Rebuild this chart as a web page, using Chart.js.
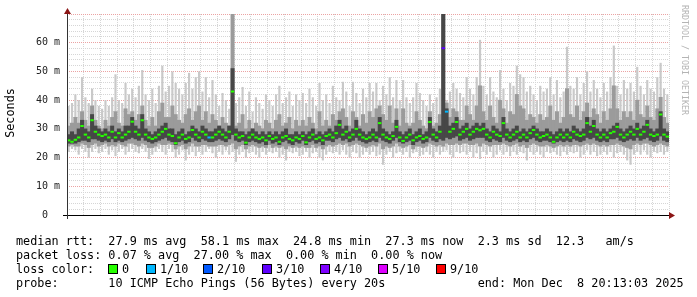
<!DOCTYPE html>
<html lang="en">
<head>
<meta charset="UTF-8" />
<title>SmokePing - median rtt</title>
<script src="https://cdn.jsdelivr.net/npm/chart.js"></script>
<style>
  body { margin: 0; background: #ffffff; }
  #wrap { width: 697px; height: 297px; }
</style>
</head>
<body>
<div id="wrap"><canvas id="smoke" width="697" height="297"></canvas></div>
<script>
// x axis is minutes after 17:00, window 17:13:03 .. 20:13:03, one sample per minute
const startX = 13.05;
const endX = 193.05;
const firstSample = 13.55;

// median rtt (ms)
const median = [
  26.0, 25.5, 26.2, 27.0, 31.0, 28.0, 27.0, 33.0, 29.0, 28.0,
  27.5, 28.0, 27.0, 29.0, 27.0, 28.5, 27.0, 28.0, 29.0, 32.5,
  29.0, 28.0, 33.0, 28.0, 27.0, 26.5, 27.0, 28.0, 29.0, 30.0,
  28.0, 27.5, 25.0, 27.0, 28.0, 26.5, 27.0, 29.6, 28.0, 27.0,
  29.0, 28.0, 27.0, 27.0, 28.0, 29.0, 28.0, 27.0, 29.0, 43.0,
  28.0, 27.0, 27.5, 25.2, 27.0, 28.0, 27.0, 26.5, 27.0, 26.0,
  27.5, 26.5, 27.0, 25.5, 27.0, 27.5, 26.5, 26.0, 27.0, 26.5,
  27.5, 25.3, 27.0, 28.0, 26.5, 27.0, 26.0, 27.5, 28.0, 27.0,
  28.5, 31.4, 28.0, 29.0, 27.0, 28.0, 30.0, 28.0, 27.0, 26.5,
  27.0, 28.0, 27.0, 32.0, 28.0, 27.0, 26.5, 27.5, 30.7, 27.0,
  25.8, 27.0, 28.0, 26.0, 27.0, 27.5, 26.5, 27.0, 32.4, 28.0,
  27.0, 29.0, 58.1, 36.0, 29.0, 30.0, 32.4, 28.0, 29.0, 30.0,
  28.0, 29.0, 30.0, 29.5, 30.0, 28.0, 27.0, 29.0, 28.0, 27.5,
  32.0, 28.0, 27.0, 28.0, 29.0, 27.0, 28.0, 27.0, 28.5, 29.6,
  28.0, 27.0, 27.5, 28.0, 27.0, 25.5, 27.0, 28.0, 27.0, 28.0,
  27.0, 29.0, 28.0, 27.5, 28.0, 32.0, 29.0, 31.0, 28.0, 27.0,
  28.0, 27.0, 28.5, 29.0, 30.7, 28.0, 27.0, 28.0, 29.0, 28.0,
  30.0, 28.0, 29.0, 31.4, 28.0, 27.5, 28.0, 35.0, 28.0, 27.3
];

// samples with packet loss (index into median) and their loss level (x/10)
const lossPoints = [42, 112, 113];
const lossLevel = [1, 3, 1];

// outer smoke: fastest and slowest ping
const smokeMin = [
  22, 23, 22.5, 21, 23, 22, 20, 22, 23, 21.5,
  22, 23, 21, 22.5, 20.5, 22, 23, 21, 22, 23,
  22, 21.5, 23, 22, 19.5, 21, 22, 23, 22, 21,
  23, 22, 20, 21, 22.5, 19, 21, 22, 20.5, 22,
  21, 22, 23, 21.5, 20, 22, 21, 22.5, 21, 22,
  18.5, 21, 22, 20, 21.5, 22, 21, 20, 22, 21,
  22, 21.5, 22, 20, 21, 19, 22, 21.5, 22, 20.5,
  21, 22, 20, 21.5, 22, 20, 19, 21, 22, 21.5,
  22, 21, 22.5, 21, 20, 22, 21.5, 20, 21, 22,
  21, 22, 20.5, 21, 17.5, 21, 22, 20, 21.5, 22,
  21, 22, 20, 21.5, 22, 20.5, 21, 22, 21, 20,
  22, 21, 22, 22.5, 21, 20, 22, 21.5, 22, 21,
  22, 20, 21.5, 19.5, 22, 21, 22, 20, 21, 22.5,
  21, 22, 20.5, 22, 21, 22, 21.5, 19, 22, 21,
  22, 21, 20, 22, 21.5, 22, 21, 20.5, 22, 21,
  22, 21.5, 22, 20, 21, 22.5, 21, 22, 20.5, 21,
  22, 21, 22, 20, 21.5, 22, 21, 19, 17.5, 21,
  22, 21, 22.5, 21, 20, 22, 21.5, 22, 21, 22
];
const smokeMax = [
  38, 39, 42, 40, 48, 41, 39, 44, 40, 38,
  37, 40, 38, 41, 49, 40, 39, 46, 42, 44,
  41, 45, 50.5, 42, 40, 44, 39, 45, 52, 43,
  45, 50, 46, 44, 42, 46, 49.5, 44, 48, 50,
  43, 48, 41, 47, 42, 38, 42.5, 40, 37, 70,
  39, 41, 44.6, 38, 43, 36, 41, 39, 37, 42,
  40, 38, 42, 45, 39, 41, 43, 38, 42, 40,
  42.5, 39, 44, 41, 38, 46, 40, 42, 39, 45,
  41, 40, 46.4, 43, 38, 46.4, 42.5, 39, 44, 41,
  46, 43, 46, 40, 45, 42, 48, 41, 47, 40,
  47, 41, 39, 41, 46, 42.5, 40, 38, 42, 39,
  41, 44, 70, 40, 43, 46, 44, 42.5, 41, 48,
  44, 42, 48, 61, 45, 42, 48, 43, 41, 50.5,
  44, 40, 46, 45, 52, 49, 48, 43, 45, 42,
  40, 45, 43, 44, 48, 42, 47, 41, 43, 58.6,
  45, 44, 48, 42, 46, 50, 43, 47, 44, 41,
  46, 43, 48, 59, 45, 42, 47, 44, 46, 43,
  51.6, 45, 42, 47, 44, 43, 48, 53, 44, 42
];

// middle smoke
const smokeLo = [
  24, 24.5, 24, 24, 25, 24.5, 23.5, 24.5, 25, 24,
  24.5, 25, 24, 24.5, 24, 25, 24.5, 24, 25, 25,
  24.5, 24, 25, 24.5, 23.5, 23.5, 24, 25, 24.5, 24.5,
  25, 24.5, 23, 24, 24.5, 23, 24, 25, 24, 24,
  24.5, 24.5, 24, 24, 24, 24.5, 24.5, 24, 24.5, 25,
  23, 24, 24.5, 23, 24, 24.5, 24, 23.5, 24, 23.5,
  24.5, 23.5, 24, 23.5, 24, 23, 24, 23.5, 24, 23.5,
  24, 23.5, 23.5, 24.5, 23.5, 24, 23, 24, 24.5, 24,
  24.5, 25, 24.5, 25, 24, 24.5, 25, 24.5, 24, 23.5,
  24, 24.5, 24, 25, 23, 24, 23.5, 24, 25, 24,
  23.5, 24, 24.5, 23, 24, 24, 23.5, 24, 25, 24.5,
  24, 24.5, 24, 25, 24.5, 24.5, 25, 24.5, 25, 25,
  24.5, 24.5, 25, 24, 25, 24.5, 24, 24.5, 24.5, 24.5,
  25, 24.5, 24, 24.5, 25, 24, 24.5, 23.5, 24.5, 25,
  24.5, 24, 24, 24.5, 24, 23.5, 24, 24.5, 24, 24.5,
  24, 24.5, 24.5, 24, 24.5, 25, 24.5, 25, 24.5, 24,
  24.5, 24, 24.5, 24.5, 25, 24.5, 24, 23.5, 23, 24.5,
  25, 24.5, 25, 25, 24.5, 24, 24.5, 25, 24.5, 24
];
const smokeHi = [
  31, 32, 34, 32, 36, 33, 31, 38, 33, 31,
  30, 33, 31, 34, 36, 32, 31, 37, 35, 36,
  33, 35, 38, 33, 31, 34, 31, 36, 39, 34,
  34, 38, 35, 33, 32, 35, 37, 33, 36, 38,
  33, 36, 32, 35, 33, 31, 34, 32, 31, 70,
  31, 32, 35, 30, 33, 30, 32, 31, 30, 33,
  32, 30, 33, 35, 31, 32, 34, 30, 33, 31,
  33, 31, 34, 32, 30, 36, 31, 33, 31, 35,
  33, 36, 37, 34, 31, 36, 34, 31, 35, 32,
  36, 34, 37, 38, 35, 33, 38, 32, 37, 31,
  37, 32, 31, 32, 36, 33, 31, 30, 36, 31,
  32, 35, 70, 39, 34, 37, 36, 33, 33, 38,
  35, 33, 38, 45, 36, 33, 38, 34, 32, 40,
  37, 32, 36, 35, 42, 38, 37, 33, 35, 34,
  32, 35, 33, 34, 38, 33, 36, 32, 34, 44,
  35, 34, 38, 33, 36, 39, 34, 37, 35, 32,
  36, 33, 37, 45, 37, 33, 36, 34, 36, 33,
  40, 35, 34, 38, 34, 33, 37, 41, 34, 32
];

// dense smoke around the median
const coreLo = [
  25, 25, 25, 25.5, 26, 26, 25.5, 26.5, 26.5, 26,
  25.5, 26, 25.5, 26.5, 25.5, 26, 25.5, 26, 26.5, 27,
  26.5, 26, 27, 26, 25.5, 25, 25.5, 26, 26.5, 27,
  26, 25.5, 24.5, 25.5, 26, 25, 25.5, 27, 26, 25.5,
  26.5, 26, 25.5, 25.5, 26, 26.5, 26, 25.5, 26.5, 28,
  26, 25.5, 26, 24.5, 25.5, 26, 25.5, 25, 25.5, 24.5,
  26, 25, 25.5, 24.5, 25.5, 26, 25, 24.5, 25.5, 25,
  26, 24.5, 25.5, 26, 25, 25.5, 24.5, 26, 26, 25.5,
  26.5, 27, 26, 26.5, 25.5, 26, 27, 26, 25.5, 25,
  25.5, 26, 25.5, 27, 26, 25.5, 25, 26, 27, 25.5,
  25, 25.5, 26, 24.5, 25.5, 26, 25, 25.5, 27, 26,
  25.5, 26.5, 26, 27, 26.5, 27, 27.5, 26, 26.5, 27,
  26, 26.5, 27, 27, 27, 26, 25.5, 26.5, 26, 25.5,
  27, 26, 25.5, 26, 26.5, 25.5, 26, 25.5, 26.5, 27,
  26, 25.5, 26, 26, 25.5, 25, 25.5, 26, 25.5, 26,
  25.5, 26.5, 26, 25.5, 26, 27, 26.5, 27, 26, 25.5,
  26, 25.5, 26.5, 26.5, 27, 26, 25.5, 26, 26.5, 26,
  27, 26, 26.5, 27, 26, 25.5, 26, 27.5, 26, 25.5
];
const coreHi = [
  28, 29, 28, 30, 33, 30, 29, 35, 31, 30,
  29, 30, 29, 31, 29, 30, 29, 31, 31, 34,
  31, 30, 35, 30, 29, 28, 29, 30, 31, 32,
  30, 30, 28, 29, 30, 28, 29, 31, 30, 29,
  31, 30, 29, 29, 30, 31, 30, 29, 31, 51,
  30, 29, 29, 28, 29, 30, 29, 28, 29, 28,
  29, 28, 29, 28, 29, 30, 28, 28, 29, 28,
  29, 28, 29, 30, 28, 29, 28, 29, 30, 29,
  31, 33, 30, 31, 29, 30, 33, 30, 29, 28,
  29, 30, 29, 34, 30, 29, 28, 29, 33, 29,
  28, 29, 30, 28, 29, 30, 28, 29, 34, 30,
  29, 31, 70, 37, 31, 32, 34, 30, 31, 32,
  30, 31, 32, 31, 32, 30, 29, 31, 30, 29,
  34, 30, 29, 30, 31, 29, 30, 29, 30, 31,
  30, 29, 29, 30, 29, 28, 29, 30, 29, 30,
  29, 31, 30, 29, 30, 34, 31, 33, 30, 29,
  30, 29, 30, 31, 32, 30, 29, 30, 31, 30,
  32, 30, 31, 33, 30, 29, 30, 36, 30, 29
];

// legend
const lossLabels = ['0', '1/10', '2/10', '3/10', '4/10', '5/10', '9/10'];
const lossColors = ['#26ff00', '#00b8ff', '#0059ff', '#5e00ff', '#7e00ff', '#dd00ff', '#ff0000'];
const lossBoxX = [108, 146, 203, 262, 320, 378, 436];

const textLines = [
  'median rtt:  27.9 ms avg  58.1 ms max  24.8 ms min  27.3 ms now  2.3 ms sd  12.3   am/s',
  'packet loss: 0.07 % avg  27.00 % max  0.00 % min  0.00 % now',
  'loss color:',
  'probe:       10 ICMP Echo Pings (56 Bytes) every 20s             end: Mon Dec  8 20:13:03 2025'
];

const mono = '"DejaVu Sans Mono", "Liberation Mono", monospace';
const minorGrid = '#d6d6d6';
const majorGrid = '#eba3a3';

const times = median.map((_, i) => firstSample + i);

function band(lo, hi) {
  return times.map((t, i) => ({ x: t, y: [lo[i], hi[i]] }));
}

function smokeLayer(label, lo, hi, color, order, width) {
  return {
    type: 'bar',
    label: label,
    data: band(lo, hi),
    backgroundColor: color,
    borderWidth: 0,
    barPercentage: width,
    categoryPercentage: 1,
    grouped: false,
    order: order
  };
}

function lossColorAt(i) {
  const k = lossPoints.indexOf(i);
  if (k < 0) return lossColors[0];
  return lossColors[lossLabels.indexOf(lossLevel[k] + '/10')];
}

function hhmm(v) {
  const h = 17 + Math.floor(v / 60);
  const m = v % 60;
  return h + ':' + (m < 10 ? '0' : '') + m;
}

// axes, arrows and all the rrdtool text around the plot
const decor = {
  id: 'decor',
  afterDraw(chart) {
    const c = chart.ctx;
    const a = chart.chartArea;
    c.save();

    c.strokeStyle = '#000';
    c.lineWidth = 1;
    c.beginPath();
    c.moveTo(a.left - 4, a.bottom + 0.5);
    c.lineTo(a.right + 1, a.bottom + 0.5);
    c.stroke();
    c.strokeStyle = '#333';
    c.beginPath();
    c.moveTo(a.left + 0.5, a.bottom + 4);
    c.lineTo(a.left + 0.5, a.top - 2);
    c.stroke();

    c.fillStyle = '#8b1515';
    c.beginPath();
    c.moveTo(a.left + 0.5, a.top - 6);
    c.lineTo(a.left - 3, a.top);
    c.lineTo(a.left + 4, a.top);
    c.closePath();
    c.fill();
    c.beginPath();
    c.moveTo(a.right + 6, a.bottom + 0.5);
    c.lineTo(a.right, a.bottom - 3);
    c.lineTo(a.right, a.bottom + 4);
    c.closePath();
    c.fill();

    c.font = '11.8px ' + mono;
    c.fillStyle = '#000';
    c.textBaseline = 'alphabetic';
    c.textAlign = 'left';
    textLines.forEach((line, k) => c.fillText(line, 16, 245 + k * 14));

    lossLabels.forEach((lab, k) => {
      const x = lossBoxX[k];
      c.fillStyle = lossColors[k];
      c.fillRect(x, 264, 9, 9);
      c.strokeStyle = '#000';
      c.strokeRect(x + 0.5, 264.5, 9, 9);
      c.fillStyle = '#000';
      c.fillText(lab, x + 14, 273);
    });

    c.save();
    c.translate(11, 113);
    c.rotate(-Math.PI / 2);
    c.textAlign = 'center';
    c.textBaseline = 'middle';
    c.fillText('Seconds', 0, 0);
    c.restore();

    c.save();
    c.translate(684, 5);
    c.rotate(Math.PI / 2);
    c.font = '8.3px ' + mono;
    c.fillStyle = '#b4b4b4';
    c.textAlign = 'left';
    c.textBaseline = 'middle';
    c.fillText('RRDTOOL / TOBI OETIKER', 0, 0);
    c.restore();

    c.restore();
  }
};

new Chart(document.getElementById('smoke').getContext('2d'), {
  type: 'bar',
  data: {
    datasets: [
      {
        type: 'line',
        label: 'median',
        data: times.map((t, i) => ({ x: t, y: median[i] })),
        showLine: false,
        pointStyle: 'line',
        pointRadius: 1.7,
        pointHoverRadius: 1.7,
        pointBorderWidth: 2,
        pointBorderColor: median.map((_, i) => lossColorAt(i)),
        order: 1
      },
      smokeLayer('core', coreLo, coreHi, '#474747', 2, 1),
      smokeLayer('mid', smokeLo, smokeHi, '#9b9b9b', 3, 1),
      smokeLayer('outer', smokeMin, smokeMax, '#c9c9c9', 4, 0.65)
    ]
  },
  options: {
    responsive: false,
    animation: false,
    layout: { padding: { top: 14, right: 28, left: 0, bottom: 0 } },
    plugins: { legend: { display: false }, tooltip: { enabled: false } },
    scales: {
      x: {
        type: 'linear',
        min: startX,
        max: endX,
        offset: false,
        grid: {
          offset: false,
          drawTicks: false,
          color: ctx => (ctx.tick && ctx.tick.value % 20 === 0) ? majorGrid : minorGrid
        },
        border: { display: false, dash: [1, 1] },
        ticks: {
          stepSize: 5,
          includeBounds: false,
          autoSkip: false,
          maxRotation: 0,
          padding: 4,
          color: '#222',
          font: { family: mono, size: 10 },
          callback: v => (v % 20 === 0) ? hhmm(v) : ''
        },
        afterFit: s => { s.height = 82; }
      },
      y: {
        min: 0,
        max: 70,
        grid: {
          drawTicks: false,
          color: ctx => (ctx.tick && ctx.tick.value % 10 === 0) ? majorGrid : minorGrid
        },
        border: { display: false, dash: [1, 1] },
        ticks: {
          stepSize: 2,
          autoSkip: false,
          padding: 7,
          color: '#222',
          font: { family: mono, size: 10 },
          callback: v => v === 0 ? '0  ' : (v % 10 === 0 && v < 70 ? v + ' m' : '')
        },
        afterFit: s => { s.width = 67; }
      }
    }
  },
  plugins: [decor]
});
</script>
</body>
</html>
